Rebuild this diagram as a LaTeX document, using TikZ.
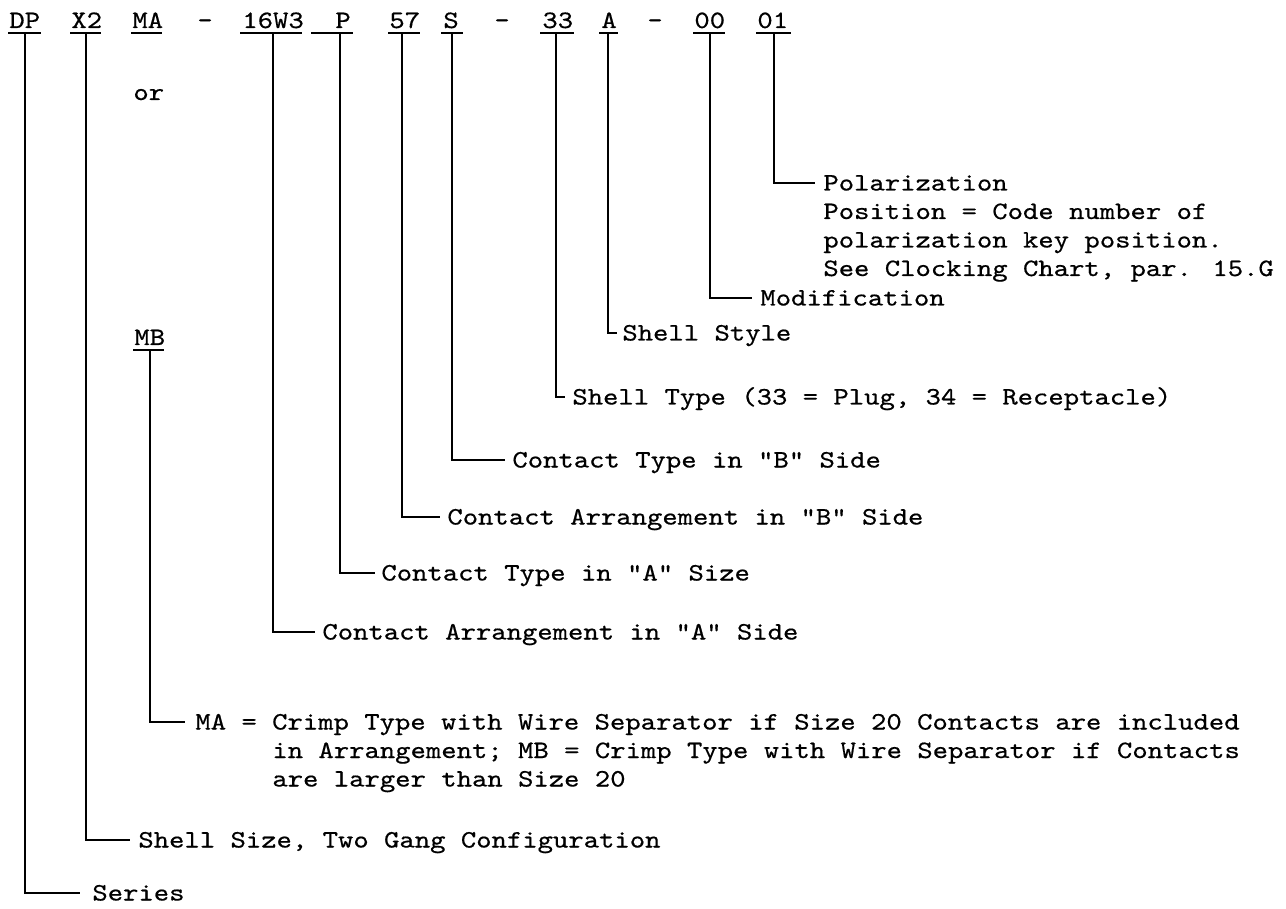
\documentclass[tikz,border=0pt]{standalone}
\usepackage{fontspec}
\newfontfamily\tw{lmmono10-regular.otf}[FakeStretch=1.17,FakeBold=0.5]
\begin{document}
\begin{tikzpicture}[x=0.5pt,y=-0.5pt,
  tok/.style={anchor=base west, inner sep=0pt, font=\tw\fontsize{12.5}{14.25}\selectfont},
  conn/.style={line width=1.1pt},
  uline/.style={line width=1.1pt}]
\useasboundingbox[fill=white] (0,0) rectangle (1286,909);
% ---- code row ----
\node[tok] (tDP) at (9,28) {DP};
\node[tok] (tX2) at (71,28) {X2};
\node[tok] (tMA) at (132,28) {MA};
\node[tok] (tD1) at (197,28) {-};
\node[tok] (t16) at (242,28) {16W3};
\node[tok] (tP) at (335,28) {P};
\node[tok] (t57) at (389,28) {57};
\node[tok] (tS) at (443,28) {S};
\node[tok] (tD2) at (494,28) {-};
\node[tok] (t33) at (542,28) {33};
\node[tok] (tA) at (601,28) {A};
\node[tok] (tD3) at (647,28) {-};
\node[tok] (t00) at (694,28) {00};
\node[tok] (t01) at (757,28) {01};
% underlines
\draw[uline] (8,33) -- (41,33);
\draw[uline] (70,33) -- (101,33);
\draw[uline] (131,33) -- (162,33);
\draw[uline] (240,33) -- (302,33);
\draw[uline] (311,33) -- (353,33);
\draw[uline] (388,33) -- (420,33);
\draw[uline] (441,33) -- (463,33);
\draw[uline] (540,33) -- (574,33);
\draw[uline] (599,33) -- (618,33);
\draw[uline] (693,33) -- (725,33);
\draw[uline] (756,33) -- (791,33);
% alternative
\node[tok] (tor) at (133,100) {or};
\node[tok] (tMB) at (134,345) {MB};
\draw[uline] (133,350) -- (164,350);
% ---- labels ----
\node[tok] (pol1) at (823,190.5) {Polarization};
\node[tok] (pol2) at (823,219) {Position = Code number of};
\node[tok] (pol3) at (823,247.5) {polarization key position.};
\node[tok] (pol4) at (823,276) {See Clocking Chart, par. 15.G};
\node[tok] (lMod) at (760,305.5) {Modification};
\node[tok] (lSty) at (622,340.5) {Shell Style};
\node[tok] (lTyp) at (572,404.5) {Shell Type (33 = Plug, 34 = Receptacle)};
\node[tok] (lCTB) at (512,467.5) {Contact Type in "B" Side};
\node[tok] (lCAB) at (447,524.5) {Contact Arrangement in "B" Side};
\node[tok] (lCTA) at (381,580.5) {Contact Type in "A" Size};
\node[tok] (lCAA) at (322,639.5) {Contact Arrangement in "A" Side};
\node[tok] (ma1) at (195,729.5) {MA = Crimp Type with Wire Separator if Size 20 Contacts are included};
\node[tok] (ma2) at (272,758) {in Arrangement; MB = Crimp Type with Wire Separator if Contacts};
\node[tok] (ma3) at (272,786.5) {are larger than Size 20};
\node[tok] (lSS) at (138,847.5) {Shell Size, Two Gang Configuration};
\node[tok] (lSer) at (92,900.5) {Series};
% ---- connector coordinates ----
\coordinate (d01) at (774,33);  \coordinate (e01) at (815,183);
\coordinate (d00) at (710,33);  \coordinate (e00) at (752,298);
\coordinate (dA) at (608,33);   \coordinate (eA) at (617,333);
\coordinate (d33) at (556,33);  \coordinate (e33) at (565,397);
\coordinate (dS) at (452,33);   \coordinate (eS) at (505,460);
\coordinate (d57) at (402,33);  \coordinate (e57) at (440,517);
\coordinate (dP) at (340,33);   \coordinate (eP) at (375,573);
\coordinate (d16) at (273,33);  \coordinate (e16) at (315,632);
\coordinate (dMB) at (150,350); \coordinate (eMB) at (185,722);
\coordinate (dX2) at (86,33);   \coordinate (eX2) at (130,840);
\coordinate (dDP) at (25,33);   \coordinate (eDP) at (80,893);
\foreach \k in {01,00,A,33,S,57,P,16,MB,X2,DP}
  \draw[conn] (d\k) |- (e\k);
\end{tikzpicture}
\end{document}
